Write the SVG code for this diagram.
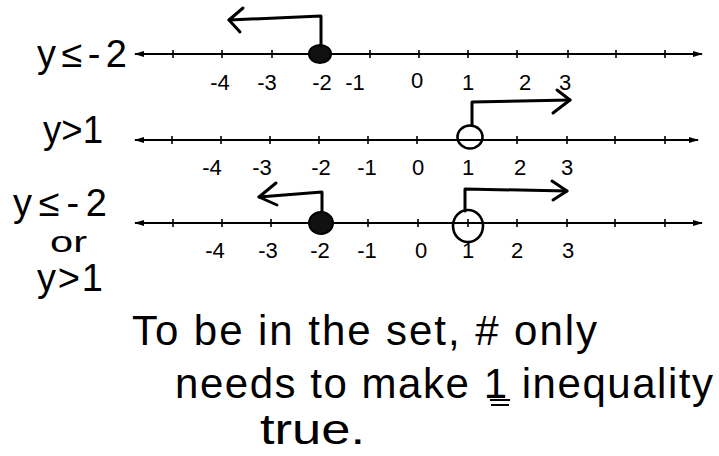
<svg xmlns="http://www.w3.org/2000/svg" width="719" height="456" viewBox="0 0 719 456">
<defs>
<style>
.bg{fill:#fff}
.axis{stroke:#000;stroke-width:2;fill:none;marker-start:url(#endL);marker-end:url(#endR)}
.tick{stroke:#000;stroke-width:1.6}
.num{font-family:"Liberation Sans",Arial,sans-serif;font-size:22px;fill:#000;text-anchor:middle}
.lab{font-family:"Liberation Sans",Arial,sans-serif;font-size:38px;fill:#000}
.note{font-family:"Liberation Sans",Arial,sans-serif;font-size:42px;fill:#000}
.ray{stroke:#000;stroke-width:3;fill:none;stroke-linecap:round;stroke-linejoin:round}
.dot{fill:#111;stroke:#000;stroke-width:2}
.open{fill:none;stroke:#000;stroke-width:2.6}
</style>
<marker id="endR" viewBox="0 0 10 8" refX="9" refY="4" markerWidth="10" markerHeight="8" markerUnits="userSpaceOnUse" orient="auto"><path d="M0,1 L10,4 L0,7 Z" fill="#000"/></marker>
<marker id="endL" viewBox="0 0 10 8" refX="1" refY="4" markerWidth="10" markerHeight="8" markerUnits="userSpaceOnUse" orient="auto"><path d="M10,1 L0,4 L10,7 Z" fill="#000"/></marker>
</defs>
<rect class="bg" x="0" y="0" width="719" height="456"/>

<g id="line1">
<text class="lab" x="37" y="67" textLength="90" lengthAdjust="spacing">y≤-2</text>
<line class="axis" x1="135" y1="54" x2="702" y2="54"/>
<g class="tick">
<line x1="173" y1="50" x2="173" y2="58"/><line x1="222" y1="50" x2="222" y2="58"/><line x1="272" y1="50" x2="272" y2="58"/>
<line x1="370" y1="50" x2="370" y2="58"/><line x1="419" y1="50" x2="419" y2="58"/><line x1="468" y1="50" x2="468" y2="58"/>
<line x1="517" y1="50" x2="517" y2="58"/><line x1="568" y1="50" x2="568" y2="58"/><line x1="616" y1="50" x2="616" y2="58"/><line x1="665" y1="50" x2="665" y2="58"/>
</g>
<ellipse class="dot" cx="320" cy="54" rx="11" ry="9"/>
<g class="num">
<text x="220" y="90">-4</text><text x="267" y="90">-3</text><text x="322" y="90">-2</text><text x="355" y="90">-1</text>
<text x="417" y="88">0</text><text x="468" y="90">1</text><text x="525" y="90">2</text><text x="565" y="90">3</text>
</g>
</g>

<g id="line2">
<text class="lab" x="43" y="143" textLength="60" lengthAdjust="spacingAndGlyphs">y&gt;1</text>
<line class="axis" x1="135" y1="140" x2="698" y2="140"/>
<g class="tick">
<line x1="172" y1="136" x2="172" y2="144"/><line x1="221" y1="136" x2="221" y2="144"/><line x1="270" y1="136" x2="270" y2="144"/>
<line x1="319" y1="136" x2="319" y2="144"/><line x1="368" y1="136" x2="368" y2="144"/><line x1="417" y1="136" x2="417" y2="144"/>
<line x1="517" y1="136" x2="517" y2="144"/><line x1="567" y1="136" x2="567" y2="144"/><line x1="615" y1="136" x2="615" y2="144"/><line x1="665" y1="136" x2="665" y2="144"/>
</g>
<ellipse class="open" cx="470" cy="137" rx="12.5" ry="11.5"/>
<g class="num">
<text x="212" y="175">-4</text><text x="262" y="175">-3</text><text x="321" y="175">-2</text><text x="367" y="175">-1</text>
<text x="418" y="175">0</text><text x="468" y="175">1</text><text x="520" y="175">2</text><text x="567" y="175">3</text>
</g>
</g>

<g id="line3">
<text class="lab" x="13" y="216" textLength="94" lengthAdjust="spacing">y≤-2</text>
<text class="lab" x="50" y="252" style="font-size:29px" textLength="37" lengthAdjust="spacingAndGlyphs">or</text>
<text class="lab" x="37" y="291" textLength="66" lengthAdjust="spacing">y&gt;1</text>
<line class="axis" x1="135" y1="223" x2="702" y2="223"/>
<g class="tick">
<line x1="173" y1="219" x2="173" y2="227"/><line x1="222" y1="219" x2="222" y2="227"/><line x1="271" y1="219" x2="271" y2="227"/>
<line x1="368" y1="219" x2="368" y2="227"/><line x1="418" y1="219" x2="418" y2="227"/><line x1="468" y1="219" x2="468" y2="227"/>
<line x1="517" y1="219" x2="517" y2="227"/><line x1="567" y1="219" x2="567" y2="227"/><line x1="615" y1="219" x2="615" y2="227"/><line x1="665" y1="219" x2="665" y2="227"/>
</g>
<ellipse class="dot" cx="321" cy="223" rx="12" ry="11"/>
<ellipse class="open" cx="468" cy="226" rx="15" ry="16"/>
<g class="num">
<text x="215" y="258">-4</text><text x="268" y="258">-3</text><text x="320" y="258">-2</text><text x="367" y="258">-1</text>
<text x="421" y="258">0</text><text x="468" y="258">1</text><text x="517" y="258">2</text><text x="568" y="258">3</text>
</g>
</g>

<g id="connectors">
<path class="ray" d="M321,46 L321,16 L229,20"/>
<path class="ray" d="M243,8 L229,20 L240,32"/>
<path class="ray" d="M472,125 L472,102 L570,100"/>
<path class="ray" d="M557,90 L570,100 L553,113"/>
<path class="ray" d="M322,212 L322,192 L259,197"/>
<path class="ray" d="M276,183 L259,197 L277,205"/>
<path class="ray" d="M465,211 L465,189 L567,191"/>
<path class="ray" d="M552,181 L567,191 L553,200"/>
</g>

<g id="note">
<text class="note" x="132" y="345" textLength="465" lengthAdjust="spacing">To be in the set, # only</text>
<text class="note" x="175" y="398" textLength="538" lengthAdjust="spacing">needs to make 1 inequality</text>
<line x1="490" y1="400" x2="510" y2="400" stroke="#000" stroke-width="2"/>
<line x1="491" y1="405" x2="509" y2="405" stroke="#000" stroke-width="2"/>
<text class="note" x="260" y="444" textLength="105" lengthAdjust="spacingAndGlyphs">true.</text>
</g>
</svg>
